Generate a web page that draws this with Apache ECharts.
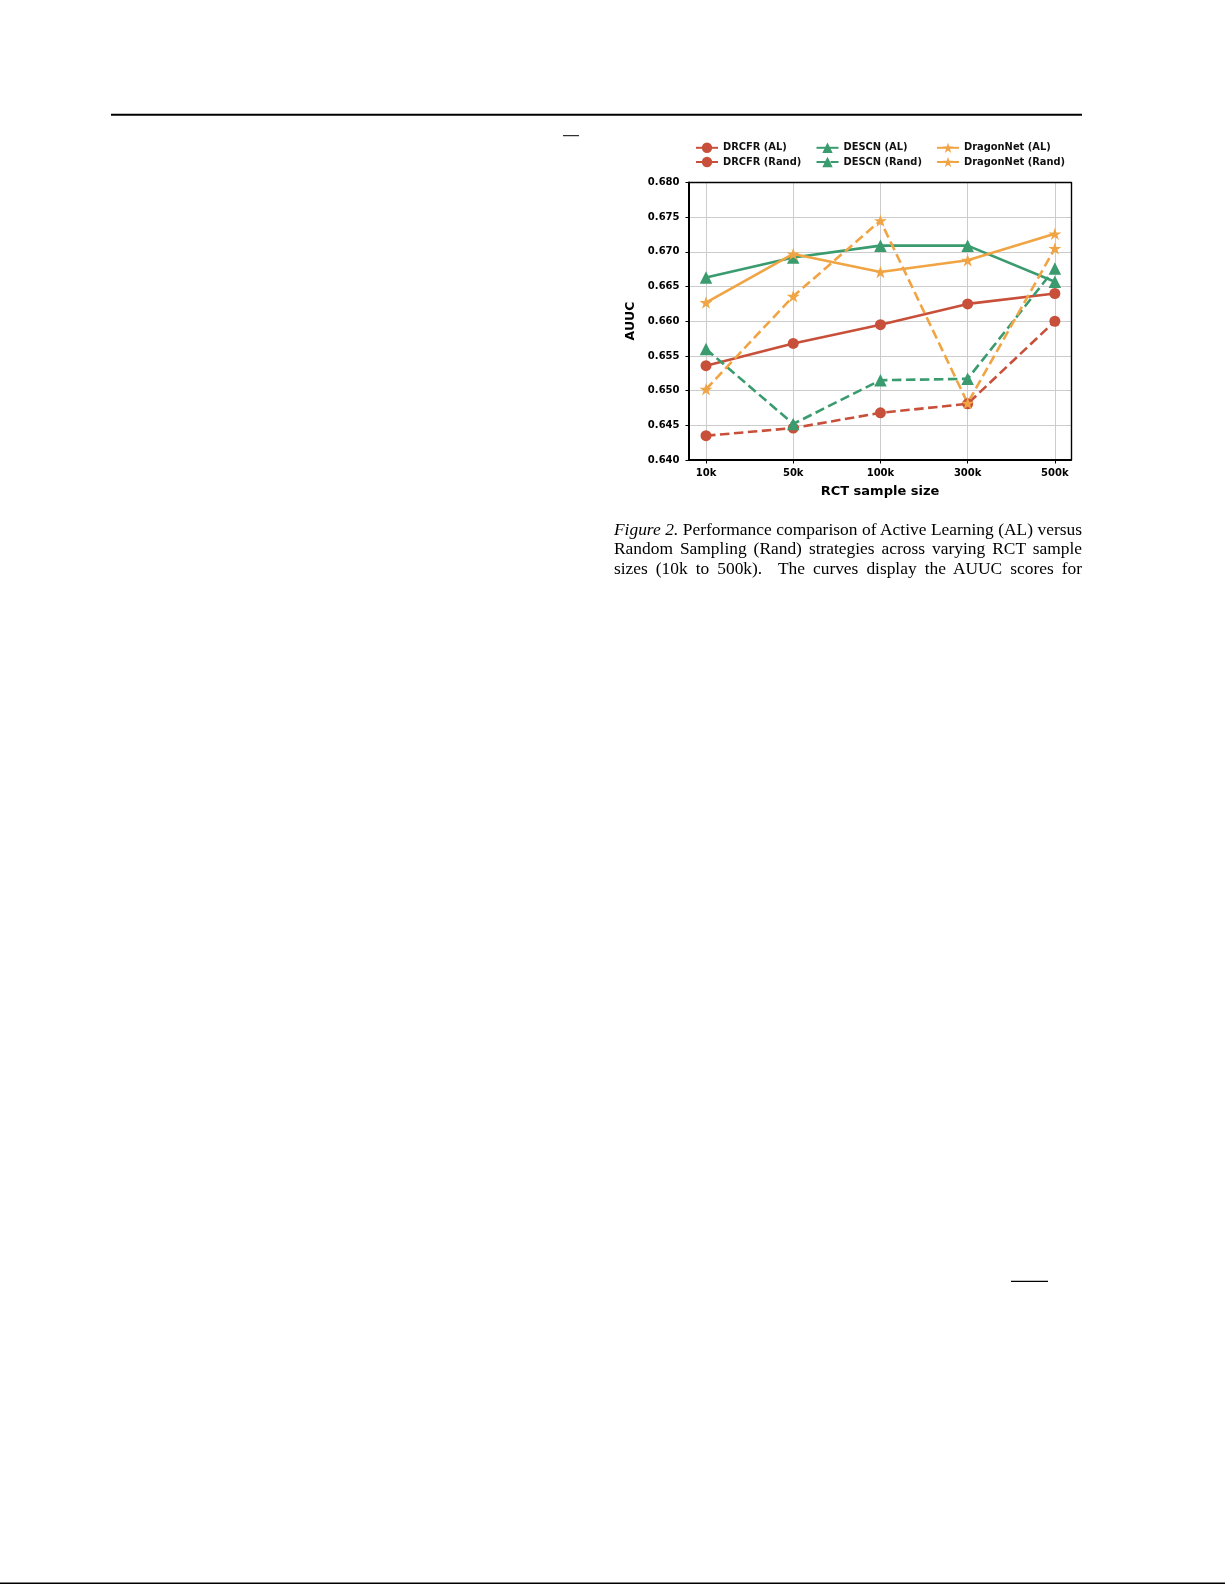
<!DOCTYPE html>
<html>
<head>
<meta charset="utf-8">
<script src="https://cdn.jsdelivr.net/npm/echarts@6/dist/echarts.min.js"></script>
<style>
  html, body { margin: 0; padding: 0; background: #fff; }
  #chart { position: absolute; left: 0; top: 0; width: 1225px; height: 1585px; }
  .cap { position: absolute; left: 614px; width: 468px; font-family: 'Liberation Serif', 'Times New Roman', serif;
         font-size: 17.4px; line-height: 20px; color: #000; text-align: justify; text-align-last: justify; white-space: nowrap; }
</style>
</head>
<body>
<div id="chart"></div>
<div class="cap" style="top:518.5px;"><i>Figure 2.</i> Performance comparison of Active Learning (AL) versus</div>
<div class="cap" style="top:538.2px;">Random Sampling (Rand) strategies across varying RCT sample</div>
<div class="cap" style="top:557.7px;">sizes (10k to 500k).&nbsp; The curves display the AUUC scores for</div>
<script>
const sizes = ['10k', '50k', '100k', '300k', '500k'];
const yTicks = [0.640, 0.645, 0.650, 0.655, 0.660, 0.665, 0.670, 0.675, 0.680];
const drcfrAL   = [0.6536, 0.6568, 0.6595, 0.6625, 0.6640];
const drcfrRand = [0.6435, 0.6446, 0.6468, 0.6481, 0.6600];
const descnAL   = [0.6663, 0.6692, 0.6709, 0.6709, 0.6657];
const descnRand = [0.6560, 0.6452, 0.6515, 0.6517, 0.6676];
const dragonAL  = [0.6627, 0.6697, 0.6671, 0.6688, 0.6726];
const dragonRand= [0.6502, 0.6636, 0.6745, 0.6482, 0.6705];

const RED = '#C8503A', GREEN = '#3A9B6F', ORANGE = '#F0A443';
const STAR = 'path://M0,-100 L22.45,-30.9 L95.11,-30.9 L36.33,11.8 L58.78,80.9 L0,38.2 L-58.78,80.9 L-36.33,11.8 L-95.11,-30.9 L-22.45,-30.9 Z';
const FONT = 'DejaVu Sans';
const idx = sizes.map((_, i) => i);
const pairs = arr => arr.map((v, i) => [i, v]);
const X_MIN = -0.195, X_MAX = 4.185;

function mk(name, arr, color, symbol, size, dashed) {
  return {
    name, type: 'line', data: pairs(arr), color,
    symbol, symbolSize: size, symbolKeepAspect: true,
    lineStyle: { color, width: 2.6, type: dashed ? [9.5, 4.5] : 'solid' },
    itemStyle: { color },
    emphasis: { disabled: true }
  };
}

const legendText = { fontFamily: FONT, fontWeight: 'bold', fontSize: 9.9, color: '#111' };
function legend(names, left) {
  return {
    data: names, orient: 'vertical', left, top: 142.6, padding: 0,
    itemWidth: 22, itemHeight: 13, itemGap: 3.8, selectedMode: false,
    textStyle: legendText
  };
}

const frameAxis = { show: true, axisLine: { show: true, onZero: false, lineStyle: { color: '#000', width: 1.4 } },
                    axisTick: { show: false }, axisLabel: { show: false }, splitLine: { show: false } };

const chart = echarts.init(document.getElementById('chart'), null, { renderer: 'canvas' });
chart.setOption({
  animation: false,
  backgroundColor: '#fff',
  legend: [
    legend(['DRCFR (AL)', 'DRCFR (Rand)'], 695),
    legend(['DESCN (AL)', 'DESCN (Rand)'], 815.5),
    legend(['DragonNet (AL)', 'DragonNet (Rand)'], 936)
  ],
  grid: { left: 689, top: 182.5, width: 382, height: 277.5 },
  xAxis: [{
    type: 'value', min: X_MIN, max: X_MAX, position: 'bottom',
    axisLine: { show: true, onZero: false, lineStyle: { color: '#000', width: 2 } },
    axisTick: { show: true, customValues: idx, length: 3.5, lineStyle: { color: '#000', width: 1 } },
    axisLabel: { customValues: idx, margin: 8, formatter: v => sizes[Math.round(v)] || '',
                 fontFamily: FONT, fontWeight: 'bold', fontSize: 10, color: '#000' },
    splitLine: { show: true, lineStyle: { color: '#cccccc', width: 1 } }
  }, Object.assign({ type: 'value', min: X_MIN, max: X_MAX, position: 'top' }, frameAxis)],
  yAxis: [{
    type: 'value', min: yTicks[0], max: yTicks[yTicks.length - 1], interval: 0.005, position: 'left',
    axisLine: { show: true, onZero: false, lineStyle: { color: '#000', width: 2 } },
    axisTick: { show: true, length: 3.5, lineStyle: { color: '#000', width: 1 } },
    axisLabel: { margin: 9.5, formatter: v => v.toFixed(3),
                 fontFamily: FONT, fontWeight: 'bold', fontSize: 10, color: '#000' },
    splitLine: { show: true, lineStyle: { color: '#cccccc', width: 1 } }
  }, Object.assign({ type: 'value', min: yTicks[0], max: yTicks[yTicks.length - 1], position: 'right' }, frameAxis)],
  series: [
    mk('DRCFR (AL)', drcfrAL, RED, 'circle', 11, false),
    mk('DRCFR (Rand)', drcfrRand, RED, 'circle', 11, true),
    mk('DESCN (AL)', descnAL, GREEN, 'triangle', 12.5, false),
    mk('DESCN (Rand)', descnRand, GREEN, 'triangle', 12.5, true),
    mk('DragonNet (AL)', dragonAL, ORANGE, STAR, 13, false),
    mk('DragonNet (Rand)', dragonRand, ORANGE, STAR, 13, true)
  ],
  graphic: [
    { type: 'line', shape: { x1: 111, y1: 114.7, x2: 1082, y2: 114.7 }, style: { stroke: '#000', lineWidth: 2 } },
    { type: 'line', shape: { x1: 563, y1: 135.7, x2: 579, y2: 135.7 }, style: { stroke: '#000', lineWidth: 1 } },
    { type: 'line', shape: { x1: 1011, y1: 1281.3, x2: 1048, y2: 1281.3 }, style: { stroke: '#000', lineWidth: 1.2 } },
    { type: 'line', shape: { x1: 0, y1: 1583.3, x2: 1225, y2: 1583.3 }, style: { stroke: '#000', lineWidth: 1.6 } },
    { type: 'text', x: 880, y: 492, style: { text: 'RCT sample size', fontFamily: FONT, fontWeight: 'bold', fontSize: 13, fill: '#000', textAlign: 'center', textVerticalAlign: 'middle' } },
    { type: 'text', x: 631, y: 321, rotation: Math.PI / 2, style: { text: 'AUUC', fontFamily: FONT, fontWeight: 'bold', fontSize: 12.5, fill: '#000', textAlign: 'center', textVerticalAlign: 'middle' } }
  ]
});
</script>
</body>
</html>
